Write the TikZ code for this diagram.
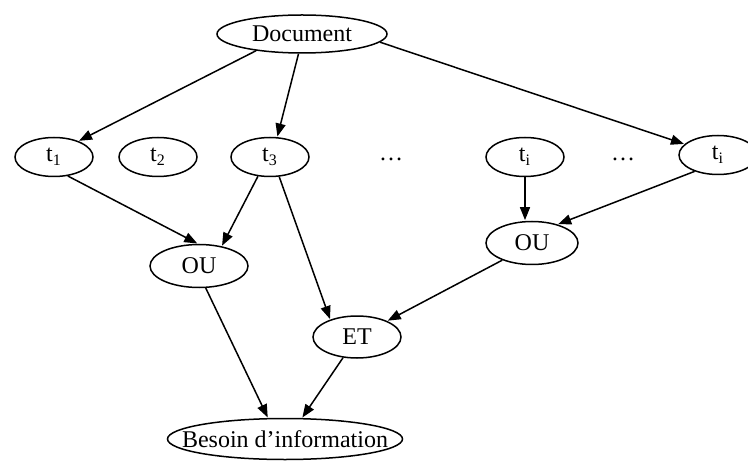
\documentclass[tikz,border=0pt]{standalone}
\usepackage{fontspec}
\setmainfont{Liberation Serif}
\usetikzlibrary{arrows.meta,shapes.geometric}
\begin{document}
\begin{tikzpicture}[x=0.5pt,y=-0.5pt,
  txt/.style={font=\fontsize{12}{14}\selectfont,inner sep=0pt},
  oval/.style={draw,ellipse,line width=0.75pt,inner sep=0pt},
  term/.style={oval,minimum width=39pt,minimum height=19.5pt},
  gate/.style={oval,minimum width=47pt,minimum height=21.5pt},
  link/.style={line width=0.75pt,-{Triangle[length=6.5pt,width=5pt]},shorten >=0.3pt}]
\useasboundingbox (0,0) rectangle (748,464);
\clip (0,0) rectangle (748,464);
% document root
\node[oval,minimum width=85pt,minimum height=19pt,label={[txt]center:Document}] (doc) at (302,34) {};
% index terms
\node[term,label={[txt]center:t\textsubscript{1}}] (t1) at (54,157) {};
\node[term,label={[txt]center:t\textsubscript{2}}] (t2) at (158,157) {};
\node[term,label={[txt]center:t\textsubscript{3}}] (t3) at (270,157) {};
\node[txt] (d1) at (391,159) {…};
\node[term,label={[txt]center:t\textsubscript{i}}] (ti) at (525,157) {};
\node[txt] (d2) at (623,159) {…};
\node[term,label={[txt]center:t\textsubscript{i}}] (tn) at (718,155) {};
% operators
\node[gate,minimum width=49pt,label={[txt]center:OU}] (ou1) at (199,266) {};
\node[gate,minimum width=46pt,label={[txt]center:OU}] (ou2) at (532,243) {};
\node[gate,minimum width=44pt,minimum height=21pt,label={[txt]center:ET}] (et) at (357,337) {};
\node[oval,minimum width=117.5pt,minimum height=20.5pt,label={[txt]center:Besoin d’information}] (need) at (285,439) {};
% connectors
\draw[link] (doc.200) -- (t1.33);
\draw[link] (doc.260) -- (t3.70);
\draw[link] (doc.354) -- (tn.162);
\draw[link] (t1.306) -- (ou1.93);
\draw[link] (t3.238) -- (ou1.41);
\draw[link] (t3.295) -- (et.147);
\draw[link] (ti.south) -- (ti.south |- ou2.north);
\draw[link] (tn.215) -- (ou2.36);
\draw[link] (ou1.287) -- (need.129);
\draw[link] (ou2.210) -- (et.28);
\draw[link] (et.236) -- (need.51);
\end{tikzpicture}
\end{document}
